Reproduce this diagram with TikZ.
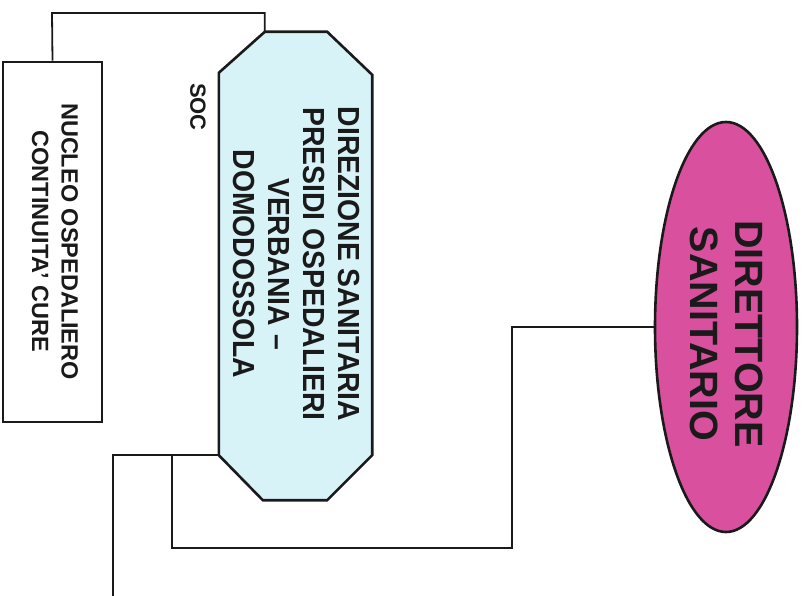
\documentclass[tikz,border=0pt]{standalone}
\usepackage{fontspec}
\setmainfont{Liberation Sans}
\newfontfamily\condfont[FakeStretch=0.93,Ligatures=TeX]{Liberation Sans}
\usetikzlibrary{shapes.geometric,calc}
\definecolor{cyanfill}{HTML}{D8F3F7}
\definecolor{magfill}{HTML}{D9509F}
\definecolor{ink}{HTML}{1A1A1A}
\begin{document}
\begin{tikzpicture}[x=1pt,y=-1pt,
  frame/.style={draw=ink,line width=2.6pt},
  conn/.style={draw=ink,line width=1.8pt},
  lbl/.style={rotate=-90,align=center,text=ink,inner sep=0pt,font=\bfseries}]
\useasboundingbox (0,0) rectangle (808,596);
% NUCLEO box
\node[frame,rectangle,minimum width=99pt,minimum height=360pt,inner sep=0pt] (nuc) at (52.5,242) {};
\node[lbl,font=\bfseries\fontsize{23.5}{29.5}\selectfont] (nuctxt) at (55,241.5) {NUCLEO OSPEDALIERO\\CONTINUITA' CURE};
% Direzione octagon
\node[rectangle,minimum width=153pt,minimum height=468pt,inner sep=0pt] (dir) at (295.5,266) {};
\filldraw[frame,fill=cyanfill,line join=miter]
  ($(dir.north west)+(46,0)$) -- ($(dir.north east)+(-45,0)$) -- ($(dir.north east)+(0,43)$)
  -- ($(dir.south east)+(0,-45)$) -- ($(dir.south east)+(-45,0)$) -- ($(dir.south west)+(44,0)$)
  -- ($(dir.south west)+(0,-45)$) -- ($(dir.north west)+(0,41)$) -- cycle;
\node[lbl,font=\condfont\bfseries\fontsize{30.5}{35}\selectfont] (dirtxt) at (296.5,264) {DIREZIONE SANITARIA\\PRESIDI OSPEDALIERI\\VERBANIA –\\DOMODOSSOLA};
\node[lbl,font=\bfseries\fontsize{22}{26}\selectfont,anchor=center] (soc) at (198,107) {SOC};
% Direttore ellipse
\node[ellipse,draw=ink,line width=2.6pt,fill=magfill,minimum width=142pt,minimum height=410pt,inner sep=0pt] (ds) at (726,327) {};
\node[lbl,font=\bfseries\fontsize{39.5}{45}\selectfont] (dstxt) at (727,334) {DIRETTORE\\SANITARIO};
% connectors
\coordinate (top) at (52,13);
\draw[conn] (nuc.north) -- (top) -| ($(dir.north west)+(46,0)$);
\coordinate (e1) at (113,597);
\coordinate (j) at (172,455);
\draw[conn] ($(dir.south west)+(0,-45)$) -| (e1);
\draw[conn] (j) -- (172,548) -| ($(ds.west)+(-142,0)$) -- (ds.west);
\end{tikzpicture}
\end{document}
